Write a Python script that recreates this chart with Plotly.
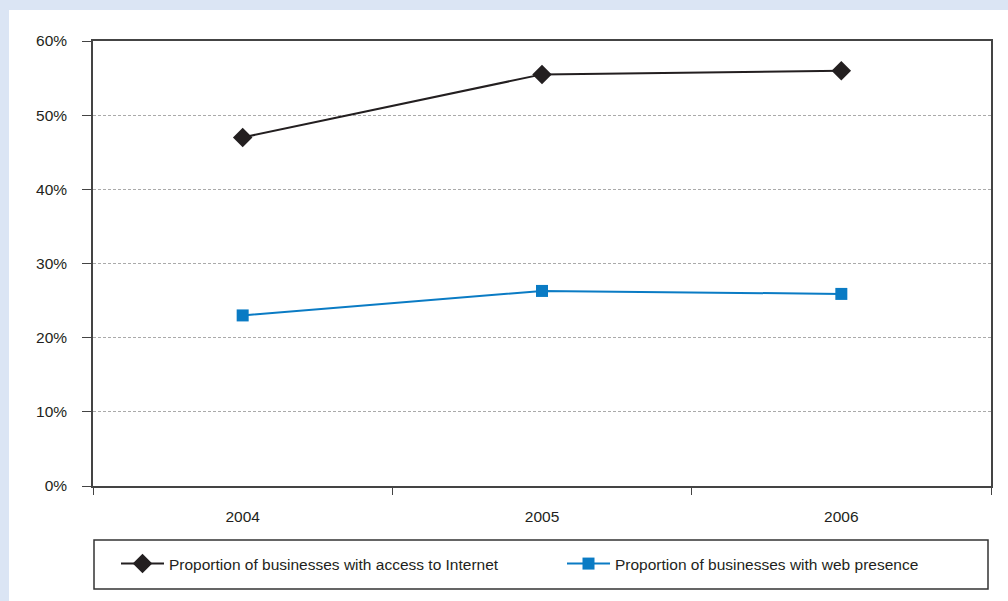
import plotly.graph_objects as go

years = ["2004", "2005", "2006"]
internet_access = [0.47, 0.555, 0.56]
web_presence = [0.23, 0.263, 0.259]
series_names = ["Proportion of businesses with access to Internet",
                "Proportion of businesses with web presence"]
y_ticks = [0, 0.1, 0.2, 0.3, 0.4, 0.5, 0.6]
y_labels = ["0%", "10%", "20%", "30%", "40%", "50%", "60%"]

FONT = "Liberation Sans, Arial, sans-serif"
FS = 15.5
W, H = 1008, 601
L, R, T, B = 93, 17, 41, 115
pw, ph = W - L - R, H - T - B

def px(x):
    return (x - L) / pw

def py(y):
    return (H - B - y) / ph

fig = go.Figure()
fig.add_trace(go.Scatter(
    x=years, y=internet_access, name=series_names[0], mode="lines+markers",
    line=dict(color="#231f20", width=2),
    marker=dict(symbol="diamond", size=15, color="#231f20"),
    legend="legend",
))
fig.add_trace(go.Scatter(
    x=years, y=web_presence, name=series_names[1], mode="lines+markers",
    line=dict(color="#0a7bc4", width=2),
    marker=dict(symbol="square", size=12, color="#0a7bc4"),
    legend="legend2",
))

# white panel over light-blue page
fig.add_shape(type="rect", xref="paper", yref="paper",
              x0=px(9), x1=px(W + 5), y0=py(H + 5), y1=py(10),
              fillcolor="white", line=dict(width=0), layer="below")
# legend box
fig.add_shape(type="rect", xref="paper", yref="paper",
              x0=px(94), x1=px(988), y0=py(589), y1=py(540),
              fillcolor="rgba(0,0,0,0)", line=dict(color="#333333", width=1.5))

leg_common = dict(
    orientation="h", yanchor="middle", y=py(564), xanchor="left",
    bgcolor="rgba(0,0,0,0)", borderwidth=0, itemwidth=43,
    font=dict(family=FONT, size=FS, color="#231f20"),
)

fig.update_layout(
    width=W, height=H,
    margin=dict(l=L, r=R, t=T, b=B),
    paper_bgcolor="#dbe5f4",
    plot_bgcolor="white",
    font=dict(family=FONT, size=FS, color="#231f20"),
    showlegend=True,
    legend=dict(x=px(116), **leg_common),
    legend2=dict(x=px(562), **leg_common),
    xaxis=dict(
        type="category", tickson="boundaries", ticks="outside", ticklen=7,
        tickcolor="#444", showline=True, linecolor="#444", linewidth=1.5,
        mirror=True, showgrid=False, tickfont=dict(size=FS),
        range=[-0.5, 2.5], ticklabelstandoff=16,
    ),
    yaxis=dict(
        range=[0, 0.6], tickvals=y_ticks, ticktext=y_labels,
        ticks="outside", ticklen=9, tickcolor="#444",
        showline=True, linecolor="#444", linewidth=1.5, mirror=True,
        showgrid=True, gridcolor="#aaaaaa", griddash="3px,2px", gridwidth=1,
        zeroline=False, tickfont=dict(size=FS), ticklabelstandoff=12,
    ),
)

fig.write_html("out.html", config={"displayModeBar": False},
               post_script="document.body.style.margin='0';")
